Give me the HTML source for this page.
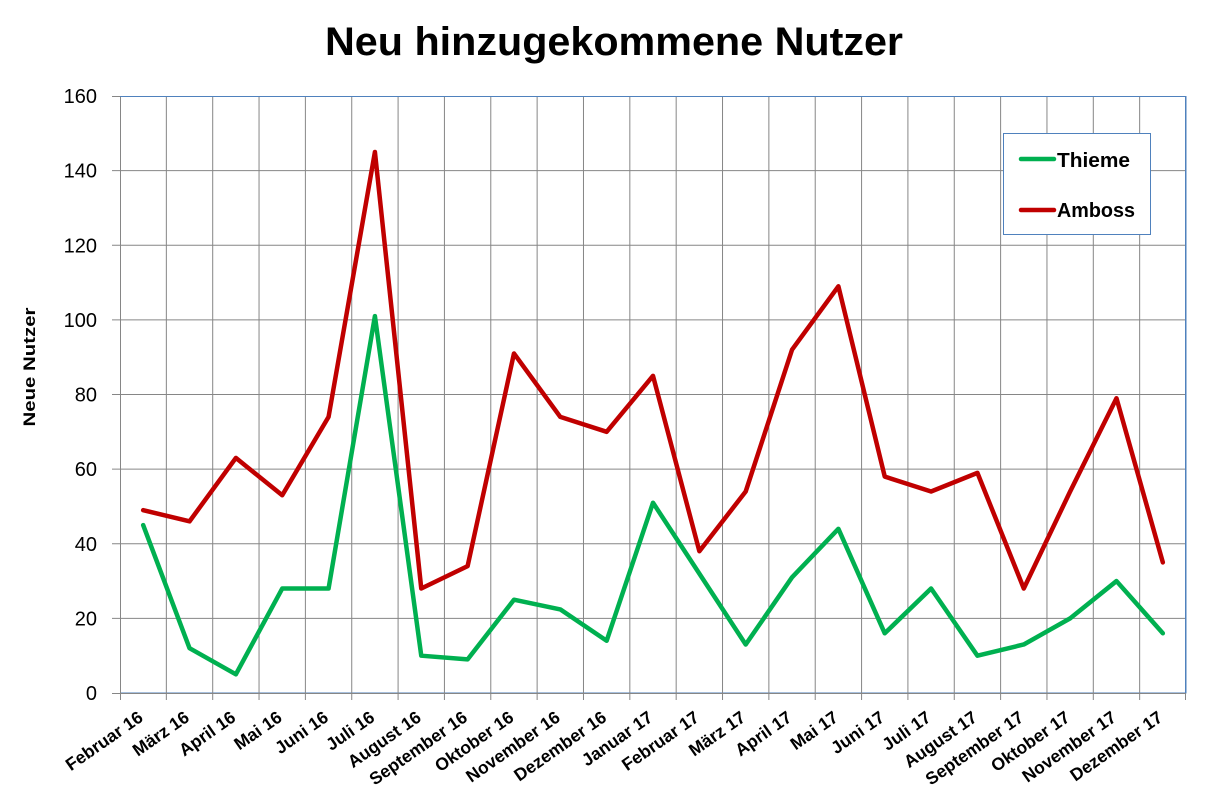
<!DOCTYPE html>
<html>
<head>
<meta charset="utf-8">
<style>
html,body{margin:0;padding:0;background:#fff;}
svg{display:block;}
text{font-family:"Liberation Sans",Arial,sans-serif;fill:#000;}
</style>
</head>
<body>
<svg width="1215" height="806" viewBox="0 0 1215 806" xmlns="http://www.w3.org/2000/svg">
<rect x="0" y="0" width="1215" height="806" fill="#fff"/>

<!-- Title -->
<text x="325" y="55" font-size="40" font-weight="bold" textLength="578" lengthAdjust="spacingAndGlyphs">Neu hinzugekommene Nutzer</text>

<!-- Plot border (blue) -->
<rect x="120.5" y="96.5" width="1065.5" height="596.5" fill="none" stroke="#4F81BD" stroke-width="1"/>

<!-- Horizontal gridlines + y ticks -->
<g stroke="#868686" stroke-width="1">
<line x1="112" y1="96.5" x2="120" y2="96.5"/>
<line x1="112" y1="170.6" x2="1186" y2="170.6"/>
<line x1="112" y1="245.3" x2="1186" y2="245.3"/>
<line x1="112" y1="319.9" x2="1186" y2="319.9"/>
<line x1="112" y1="394.5" x2="1186" y2="394.5"/>
<line x1="112" y1="469.1" x2="1186" y2="469.1"/>
<line x1="112" y1="543.8" x2="1186" y2="543.8"/>
<line x1="112" y1="618.4" x2="1186" y2="618.4"/>
<line x1="112" y1="693.5" x2="1186" y2="693.5"/>
</g>

<!-- Vertical gridlines + x ticks -->
<g stroke="#868686" stroke-width="1">
<line x1="120.5" y1="96" x2="120.5" y2="700"/>
<line x1="166.35" y1="96" x2="166.35" y2="700"/>
<line x1="212.7" y1="96" x2="212.7" y2="700"/>
<line x1="259.04" y1="96" x2="259.04" y2="700"/>
<line x1="305.39" y1="96" x2="305.39" y2="700"/>
<line x1="351.74" y1="96" x2="351.74" y2="700"/>
<line x1="398.09" y1="96" x2="398.09" y2="700"/>
<line x1="444.43" y1="96" x2="444.43" y2="700"/>
<line x1="490.78" y1="96" x2="490.78" y2="700"/>
<line x1="537.13" y1="96" x2="537.13" y2="700"/>
<line x1="583.48" y1="96" x2="583.48" y2="700"/>
<line x1="629.83" y1="96" x2="629.83" y2="700"/>
<line x1="676.17" y1="96" x2="676.17" y2="700"/>
<line x1="722.52" y1="96" x2="722.52" y2="700"/>
<line x1="768.87" y1="96" x2="768.87" y2="700"/>
<line x1="815.22" y1="96" x2="815.22" y2="700"/>
<line x1="861.57" y1="96" x2="861.57" y2="700"/>
<line x1="907.91" y1="96" x2="907.91" y2="700"/>
<line x1="954.26" y1="96" x2="954.26" y2="700"/>
<line x1="1000.61" y1="96" x2="1000.61" y2="700"/>
<line x1="1046.96" y1="96" x2="1046.96" y2="700"/>
<line x1="1093.3" y1="96" x2="1093.3" y2="700"/>
<line x1="1139.65" y1="96" x2="1139.65" y2="700"/>
</g>
<line x1="1185.5" y1="96" x2="1185.5" y2="693" stroke="#4F81BD" stroke-width="1"/>
<line x1="1185.5" y1="693" x2="1185.5" y2="700" stroke="#868686" stroke-width="1"/>
<line x1="120" y1="96.5" x2="1186" y2="96.5" stroke="#4F81BD" stroke-width="1"/>

<!-- Y tick labels -->
<g font-size="20" text-anchor="end">
<text x="97" y="103">160</text>
<text x="97" y="177.6">140</text>
<text x="97" y="252.3">120</text>
<text x="97" y="326.9">100</text>
<text x="97" y="401.5">80</text>
<text x="97" y="476.1">60</text>
<text x="97" y="550.8">40</text>
<text x="97" y="625.4">20</text>
<text x="97" y="700">0</text>
</g>

<!-- Y axis title -->
<text transform="translate(35,367) rotate(-90)" text-anchor="middle" font-size="17" font-weight="bold" textLength="119" lengthAdjust="spacingAndGlyphs">Neue Nutzer</text>

<!-- X labels -->
<g font-size="17.5" font-weight="bold" text-anchor="end">
<text transform="translate(144.2,720) rotate(-35)">Februar 16</text>
<text transform="translate(190.5,720) rotate(-35)">März 16</text>
<text transform="translate(236.9,720) rotate(-35)">April 16</text>
<text transform="translate(283.2,720) rotate(-35)">Mai 16</text>
<text transform="translate(329.6,720) rotate(-35)">Juni 16</text>
<text transform="translate(375.9,720) rotate(-35)">Juli 16</text>
<text transform="translate(422.3,720) rotate(-35)">August 16</text>
<text transform="translate(468.6,720) rotate(-35)">September 16</text>
<text transform="translate(515,720) rotate(-35)">Oktober 16</text>
<text transform="translate(561.3,720) rotate(-35)">November 16</text>
<text transform="translate(607.7,720) rotate(-35)">Dezember 16</text>
<text transform="translate(654,720) rotate(-35)">Januar 17</text>
<text transform="translate(700.4,720) rotate(-35)">Februar 17</text>
<text transform="translate(746.7,720) rotate(-35)">März 17</text>
<text transform="translate(793,720) rotate(-35)">April 17</text>
<text transform="translate(839.4,720) rotate(-35)">Mai 17</text>
<text transform="translate(885.7,720) rotate(-35)">Juni 17</text>
<text transform="translate(932.1,720) rotate(-35)">Juli 17</text>
<text transform="translate(978.4,720) rotate(-35)">August 17</text>
<text transform="translate(1024.8,720) rotate(-35)">September 17</text>
<text transform="translate(1071.1,720) rotate(-35)">Oktober 17</text>
<text transform="translate(1117.5,720) rotate(-35)">November 17</text>
<text transform="translate(1163.8,720) rotate(-35)">Dezember 17</text>
</g>

<!-- Series: Amboss -->
<polyline fill="none" stroke="#C00000" stroke-width="4.5" stroke-linejoin="round" stroke-linecap="round"
points="143.17,510.17 189.52,521.36 235.87,457.93 282.22,495.24 328.57,416.89 374.91,151.97 421.26,588.52 467.61,566.14 513.96,353.46 560.3,416.89 606.65,431.81 653,375.84 699.35,551.21 745.7,491.51 792.04,349.72 838.39,286.29 884.74,476.59 931.09,491.51 977.43,472.86 1023.78,588.52 1070.13,491.51 1116.48,398.23 1162.83,562.41"/>

<!-- Series: Thieme -->
<polyline fill="none" stroke="#00B050" stroke-width="4.5" stroke-linejoin="round" stroke-linecap="round"
points="143.17,525.09 189.52,648.22 235.87,674.34 282.22,588.52 328.57,588.52 374.91,316.14 421.26,655.69 467.61,659.42 513.96,599.72 560.3,609.42 606.65,640.76 653,502.71 699.35,573.6 745.7,644.49 792.04,577.33 838.39,528.82 884.74,633.3 931.09,588.52 977.43,655.69 1023.78,644.49 1070.13,618.37 1116.48,581.06 1162.83,633.3"/>

<!-- Legend -->
<rect x="1003.5" y="133.5" width="147" height="101" fill="#fff" stroke="#4F81BD" stroke-width="1"/>
<line x1="1021" y1="159" x2="1054" y2="159" stroke="#00B050" stroke-width="4.5" stroke-linecap="round"/>
<line x1="1021" y1="210" x2="1054" y2="210" stroke="#C00000" stroke-width="4.5" stroke-linecap="round"/>
<text x="1057" y="167" font-size="20" font-weight="bold" textLength="73" lengthAdjust="spacingAndGlyphs">Thieme</text>
<text x="1057" y="217" font-size="20" font-weight="bold" textLength="78" lengthAdjust="spacingAndGlyphs">Amboss</text>
</svg>
</body>
</html>
